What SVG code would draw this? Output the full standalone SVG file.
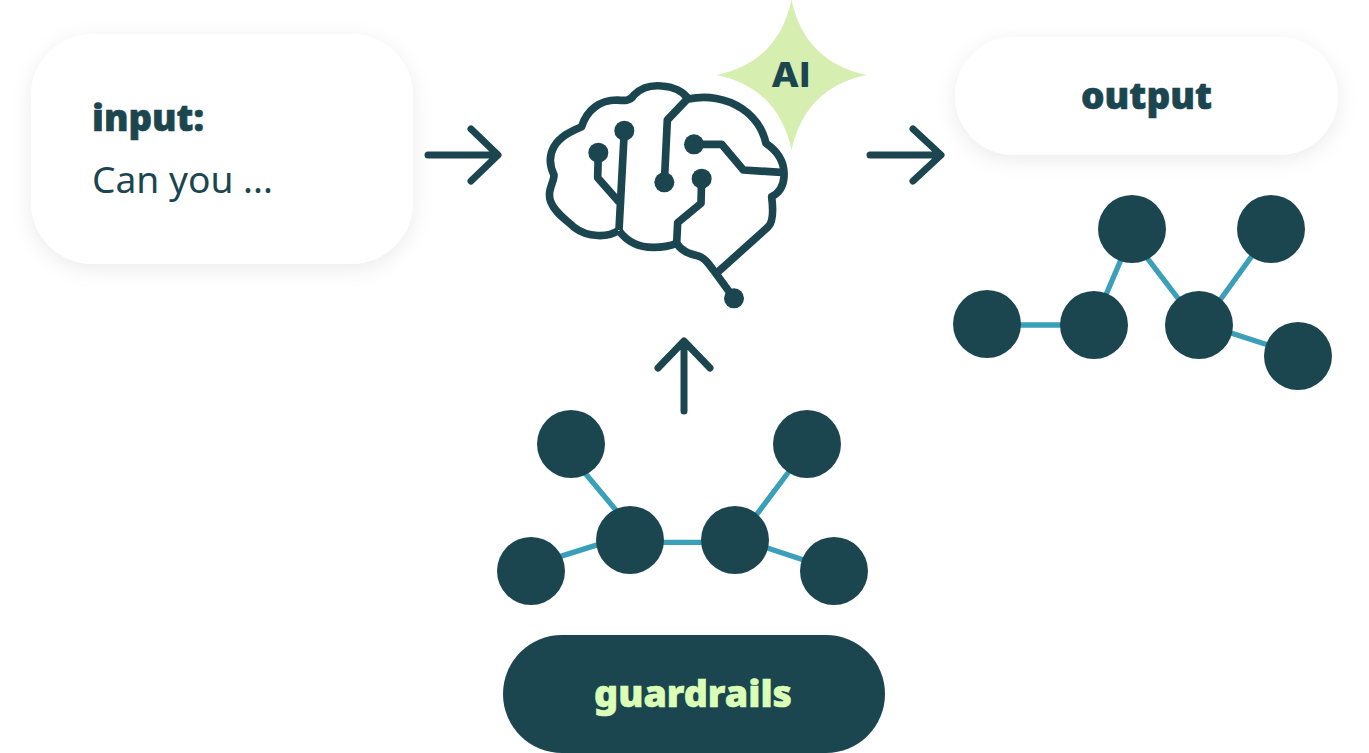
<svg xmlns="http://www.w3.org/2000/svg" width="1369" height="753" viewBox="0 0 1369 753">
<style>
.arrow{fill:none;stroke:#1b4650;stroke-width:7;stroke-linecap:round;stroke-linejoin:round}
.edge{stroke:#3a9fb8;stroke-width:5.300;fill:none}
.dot{fill:#1b4650}
.brain{fill:none;stroke:#1b4650;stroke-width:23;stroke-linejoin:round}
.t{font-family:"Noto Sans","Lato",sans-serif;fill:#1b4650}
.b{font-weight:900;font-size:37px;stroke:#1b4650;stroke-width:.6px}
</style>
<defs>
<filter id="sh" x="-20%" y="-30%" width="140%" height="160%"><feDropShadow dx="0" dy="5" stdDeviation="10" flood-color="#000" flood-opacity="0.08"/></filter>
</defs>
<rect width="1369" height="753" fill="#fff"/>
<g id="connectors">
<path class="arrow" d="M428 155H497M471 129L498 155L471 181"/>
<path class="arrow" d="M870 155H940M913 129L941 155L913 181"/>
<path class="arrow" d="M684 411V342M658 368L684 341L710 368"/>
</g>
<g id="input"><rect x="31" y="34" width="382" height="230" rx="62" fill="#fff" filter="url(#sh)"/>
<text class="t b" x="92" y="131" textLength="112" lengthAdjust="spacingAndGlyphs">input:</text>
<text class="t" x="92" y="193" font-size="37" font-weight="400" textLength="181" lengthAdjust="spacingAndGlyphs">Can you ...</text></g>
<g id="output"><rect x="955" y="37" width="383" height="118" rx="59" fill="#fff" filter="url(#sh)"/>
<text class="t b" x="1081" y="109" textLength="131" lengthAdjust="spacingAndGlyphs">output</text></g>
<g id="guardrails"><rect x="503" y="635" width="382" height="118" rx="59" fill="#1b4650"/>
<text class="t b" x="594" y="707" textLength="198" lengthAdjust="spacingAndGlyphs" style="fill:#dcffb8;stroke:#dcffb8">guardrails</text></g>
<g id="ai-star"><path d="M791.500 0Q805 62 866.500 75Q805 88 791.500 150Q778 88 717 75Q778 62 791.500 0Z" fill="#d6eeb0"/>
<text x="771" y="87" textLength="39" lengthAdjust="spacingAndGlyphs" font-family="Inter,sans-serif" font-weight="800" font-size="34" fill="#1b4650">AI</text></g>
<g id="brain" transform="translate(530 0) scale(.33333)">
<path class="brain" d="M265 692C235 712 175 715 130 680C110 660 75 640 62 605C50 570 72 550 72 525C60 500 55 470 72 440C90 410 120 395 155 380C170 330 210 300 260 300C280 302 300 305 312 285C335 262 365 255 395 258C430 260 460 275 475 297C530 285 590 295 635 325C680 355 700 395 708 430C745 455 765 485 762 530C760 560 745 580 725 590C730 630 730 665 715 680L565 815"/>
<path class="brain" d="M267 690L283 392M205 458L203 533L267 606"/>
<path class="brain" d="M472 297L412 360L403 547"/>
<path class="brain" d="M492 433H575L640 510L765 518"/>
<path class="brain" d="M515 536L513 610L443 668L440 730"/>
<path class="brain" d="M267 692C295 730 335 742 370 742C400 742 420 738 440 730C455 755 480 762 505 768C530 775 540 800 550 810L612 895"/>
<circle class="dot" cx="283" cy="392" r="30"/><circle class="dot" cx="205" cy="458" r="30"/><circle class="dot" cx="403" cy="547" r="30"/><circle class="dot" cx="492" cy="433" r="30"/><circle class="dot" cx="515" cy="536" r="30"/><circle class="dot" cx="612" cy="895" r="30"/>
</g>
<g id="graph-output">
<path class="edge" d="M987 325H1094M1128 243L1100 309M1138 246L1190 314M1262 242L1210 314M1200 323L1290 352"/>
<circle class="dot" cx="987" cy="324" r="34"/><circle class="dot" cx="1094" cy="325" r="34"/><circle class="dot" cx="1132" cy="229" r="34"/><circle class="dot" cx="1199" cy="325" r="34"/><circle class="dot" cx="1271" cy="229" r="34"/><circle class="dot" cx="1298" cy="356" r="34"/>
</g>
<g id="graph-guardrails">
<path class="edge" d="M531 565.600L630 534.600M575 461L625 521M630 542.300H735M795 463.500L745 530M735 537.300L834 570"/>
<circle class="dot" cx="531" cy="571" r="34"/><circle class="dot" cx="630" cy="540" r="34"/><circle class="dot" cx="571" cy="444" r="34"/><circle class="dot" cx="735" cy="540" r="34"/><circle class="dot" cx="807" cy="444" r="34"/><circle class="dot" cx="834" cy="571" r="34"/>
</g>
</svg>
